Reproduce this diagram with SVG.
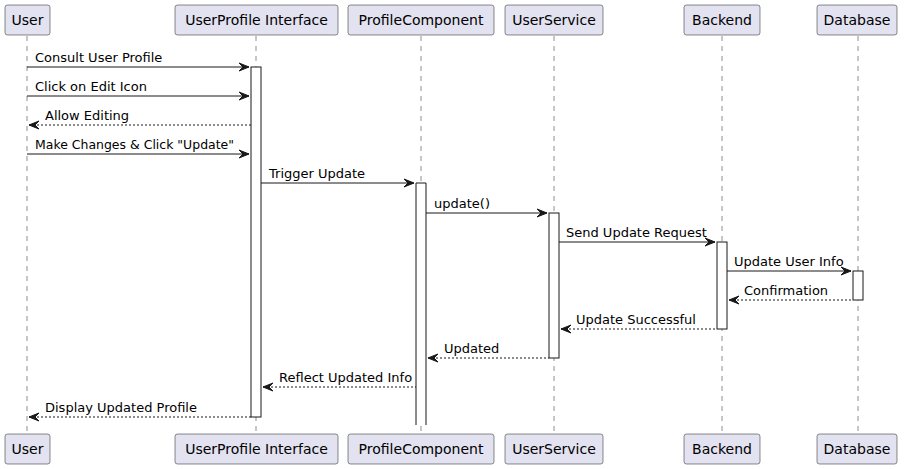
<svg xmlns="http://www.w3.org/2000/svg" width="904" height="469" viewBox="0 0 904 469">
<style>
.bg{fill:#FFFFFF}
.life{stroke:#181818;stroke-width:0.5;stroke-dasharray:5,5;fill:none}
.pbox{fill:#E2E2F0;stroke:#181818;stroke-width:0.5}
.ptxt{font-family:"DejaVu Sans",sans-serif;font-size:14px;fill:#000000;text-anchor:middle}
.act{fill:#FFFFFF;stroke:#181818;stroke-width:1}
.msg{stroke:#181818;stroke-width:1;fill:none}
.ret{stroke:#181818;stroke-width:1;stroke-dasharray:2,2;fill:none}
.mtxt{font-family:"DejaVu Sans",sans-serif;font-size:13px;fill:#000000}
.head{fill:#181818;stroke:#181818;stroke-width:1}
</style>
<rect class="bg" x="0" y="0" width="904" height="469"/>
<g id="lifelines">
<line class="life" x1="27" y1="36" x2="27" y2="434"/>
<line class="life" x1="256" y1="36" x2="256" y2="434"/>
<line class="life" x1="421" y1="36" x2="421" y2="434"/>
<line class="life" x1="554" y1="36" x2="554" y2="434"/>
<line class="life" x1="722" y1="36" x2="722" y2="434"/>
<line class="life" x1="858" y1="36" x2="858" y2="434"/>
</g>
<g id="activations">
<rect class="act" x="251" y="67" width="10" height="350"/>
<path class="act" d="M416,425 L416,183 L426,183 L426,425"/>
<rect class="act" x="549" y="213" width="10" height="145"/>
<rect class="act" x="717" y="242" width="10" height="87"/>
<rect class="act" x="853" y="271" width="10" height="29"/>
</g>
<g id="User">
<rect class="pbox" x="5" y="5" width="45" height="30" rx="2.5"/>
<text class="ptxt" x="27.5" y="25">User</text>
<rect class="pbox" x="5" y="434" width="45" height="30" rx="2.5"/>
<text class="ptxt" x="27.5" y="454">User</text>
</g>
<g id="UserProfileInterface">
<rect class="pbox" x="175" y="5" width="163" height="30" rx="2.5"/>
<text class="ptxt" x="256.5" y="25">UserProfile Interface</text>
<rect class="pbox" x="175" y="434" width="163" height="30" rx="2.5"/>
<text class="ptxt" x="256.5" y="454">UserProfile Interface</text>
</g>
<g id="ProfileComponent">
<rect class="pbox" x="348" y="5" width="146" height="30" rx="2.5"/>
<text class="ptxt" x="421" y="25">ProfileComponent</text>
<rect class="pbox" x="348" y="434" width="146" height="30" rx="2.5"/>
<text class="ptxt" x="421" y="454">ProfileComponent</text>
</g>
<g id="UserService">
<rect class="pbox" x="505" y="5" width="98" height="30" rx="2.5"/>
<text class="ptxt" x="554" y="25">UserService</text>
<rect class="pbox" x="505" y="434" width="98" height="30" rx="2.5"/>
<text class="ptxt" x="554" y="454">UserService</text>
</g>
<g id="Backend">
<rect class="pbox" x="684" y="5" width="76" height="30" rx="2.5"/>
<text class="ptxt" x="722" y="25">Backend</text>
<rect class="pbox" x="684" y="434" width="76" height="30" rx="2.5"/>
<text class="ptxt" x="722" y="454">Backend</text>
</g>
<g id="Database">
<rect class="pbox" x="817" y="5" width="80" height="30" rx="2.5"/>
<text class="ptxt" x="857" y="25">Database</text>
<rect class="pbox" x="817" y="434" width="80" height="30" rx="2.5"/>
<text class="ptxt" x="857" y="454">Database</text>
</g>
<g id="connectors">
<line class="msg" x1="27" y1="67" x2="249" y2="67"/>
<polygon class="head" points="239,63 249,67 239,71 243,67"/>
<text class="mtxt" x="35" y="62">Consult User Profile</text>

<line class="msg" x1="27" y1="96" x2="249" y2="96"/>
<polygon class="head" points="239,92 249,96 239,100 243,96"/>
<text class="mtxt" x="35" y="91">Click on Edit Icon</text>

<line class="ret" x1="29" y1="125" x2="251" y2="125"/>
<polygon class="head" points="39,121 29,125 39,129 35,125"/>
<text class="mtxt" x="45" y="120">Allow Editing</text>

<line class="msg" x1="27" y1="154" x2="249" y2="154"/>
<polygon class="head" points="239,150 249,154 239,158 243,154"/>
<text class="mtxt" x="35" y="149" textLength="199" lengthAdjust="spacingAndGlyphs">Make Changes &amp; Click "Update"</text>

<line class="msg" x1="261" y1="183" x2="414" y2="183"/>
<polygon class="head" points="404,179 414,183 404,187 408,183"/>
<text class="mtxt" x="269" y="178">Trigger Update</text>

<line class="msg" x1="426" y1="213" x2="547" y2="213"/>
<polygon class="head" points="537,209 547,213 537,217 541,213"/>
<text class="mtxt" x="434" y="208">update()</text>

<line class="msg" x1="559" y1="242" x2="715" y2="242"/>
<polygon class="head" points="705,238 715,242 705,246 709,242"/>
<text class="mtxt" x="566" y="237">Send Update Request</text>

<line class="msg" x1="727" y1="271" x2="851" y2="271"/>
<polygon class="head" points="841,267 851,271 841,275 845,271"/>
<text class="mtxt" x="734" y="266">Update User Info</text>

<line class="ret" x1="729" y1="300" x2="853" y2="300"/>
<polygon class="head" points="739,296 729,300 739,304 735,300"/>
<text class="mtxt" x="744" y="295">Confirmation</text>

<line class="ret" x1="561" y1="329" x2="717" y2="329"/>
<polygon class="head" points="571,325 561,329 571,333 567,329"/>
<text class="mtxt" x="576" y="324">Update Successful</text>

<line class="ret" x1="428" y1="358" x2="549" y2="358"/>
<polygon class="head" points="438,354 428,358 438,362 434,358"/>
<text class="mtxt" x="444" y="353">Updated</text>

<line class="ret" x1="263" y1="387" x2="416" y2="387"/>
<polygon class="head" points="273,383 263,387 273,391 269,387"/>
<text class="mtxt" x="279" y="382">Reflect Updated Info</text>

<line class="ret" x1="29" y1="417" x2="251" y2="417"/>
<polygon class="head" points="39,413 29,417 39,421 35,417"/>
<text class="mtxt" x="45" y="412">Display Updated Profile</text>
</g>
</svg>
